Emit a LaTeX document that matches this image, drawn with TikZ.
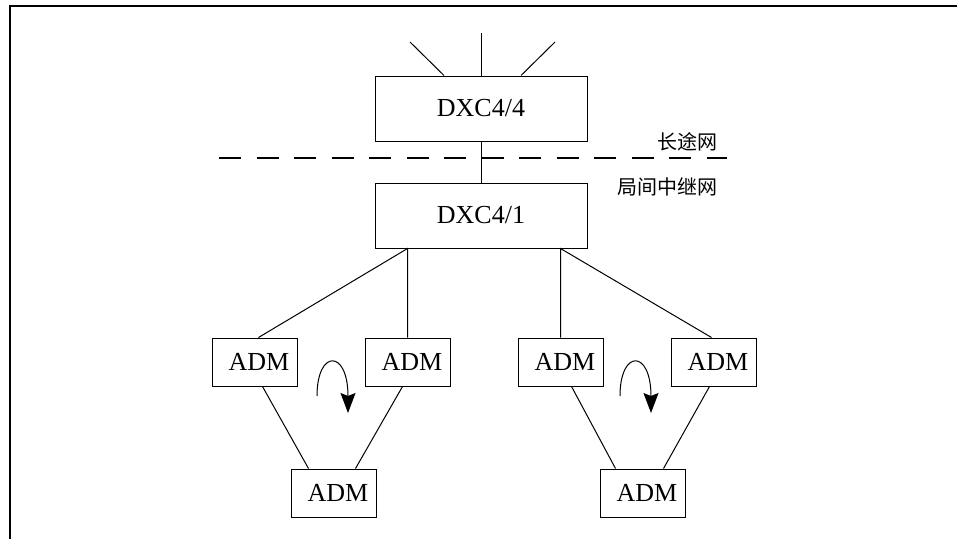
\documentclass[tikz,border=0pt]{standalone}
\usepackage{fontspec}
\setmainfont{Liberation Serif}
\newfontfamily\cjk{Noto Sans CJK SC}
\usepackage{tikz}
\usetikzlibrary{arrows.meta,positioning}

\begin{document}
\begin{tikzpicture}[
    x=1pt, y=-1pt,
    dxc/.style={rectangle, draw, line width=1pt, minimum width=212pt, minimum height=65pt, font=\fontsize{26}{30}\selectfont},
    adm/.style={rectangle, draw, line width=1pt, minimum width=85pt, minimum height=48pt, font=\fontsize{26}{30}\selectfont, execute at begin node=\hspace{9pt}},
    zone/.style={inner sep=0pt, font=\cjk\fontsize{20}{24}\selectfont},
    link/.style={line width=1pt},
    turn/.style={line width=1pt, -{Stealth[length=20pt, width=15pt, inset=3pt]}}
]
\useasboundingbox (0,0) rectangle (957,539);

% Frame
\draw[line width=2.5pt] (957,6) -- (10,6) -- (10,539);

% Cross-connects
\node[dxc] (dxc44) at (481,108.5) {DXC4/4};
\node[dxc, below=41pt of dxc44] (dxc41) {DXC4/1};

% ADM rings
\node[adm, below=89pt of dxc41, xshift=-73.5pt] (adm2) {ADM};
\node[adm, left=67pt of adm2] (adm1) {ADM};
\node[adm, right=67pt of adm2] (adm3) {ADM};
\node[adm, right=67pt of adm3] (adm4) {ADM};
\node[adm, below right=82pt and -7pt of adm1] (adm5) {ADM};
\node[adm, below right=82pt and -4pt of adm3] (adm6) {ADM};

% Trunk lines
\coordinate (up1) at (410,42);
\coordinate (up2) at (481,33);
\coordinate (up3) at (555,42);
\draw[link] (up1) -- ([xshift=-37pt]dxc44.north);
\draw[link] (up2) -- (dxc44.north);
\draw[link] (up3) -- ([xshift=40pt]dxc44.north);
\draw[link] (dxc44) -- (dxc41);

% Boundary between the two layers
\coordinate (dashL) at (219,158);
\coordinate (dashR) at (727,158);
\draw[line width=2.5pt, dash pattern=on 22pt off 15.5pt] (dashL) -- (dashR);
\node[zone, above left=7pt and 9pt of dashR] (ltw) {长途网};
\node[zone, below left=19pt and 9pt of dashR] (jjw) {局间中继网};

% Feeders
\draw[link] ([xshift=4pt]adm1.north) -- (adm2.north |- dxc41.south) -- (adm2.north);
\draw[link] ([xshift=-2pt]adm4.north) -- (adm3.north |- dxc41.south) -- (adm3.north);

% Rings
\draw[link] ([xshift=8pt]adm1.south) -- ([xshift=-25pt]adm5.north);
\draw[link] ([xshift=-5pt]adm2.south) -- ([xshift=22pt]adm5.north);
\draw[link] ([xshift=11pt]adm3.south) -- ([xshift=-27pt]adm6.north);
\draw[link] ([xshift=-4pt]adm4.south) -- ([xshift=21pt]adm6.north);

% Direction of rotation
\draw[turn] (317,396) .. controls (317,349) and (348,349) .. (348,413);
\draw[turn] (620,396) .. controls (620,349) and (651,349) .. (651,413);

\end{tikzpicture}
\end{document}
